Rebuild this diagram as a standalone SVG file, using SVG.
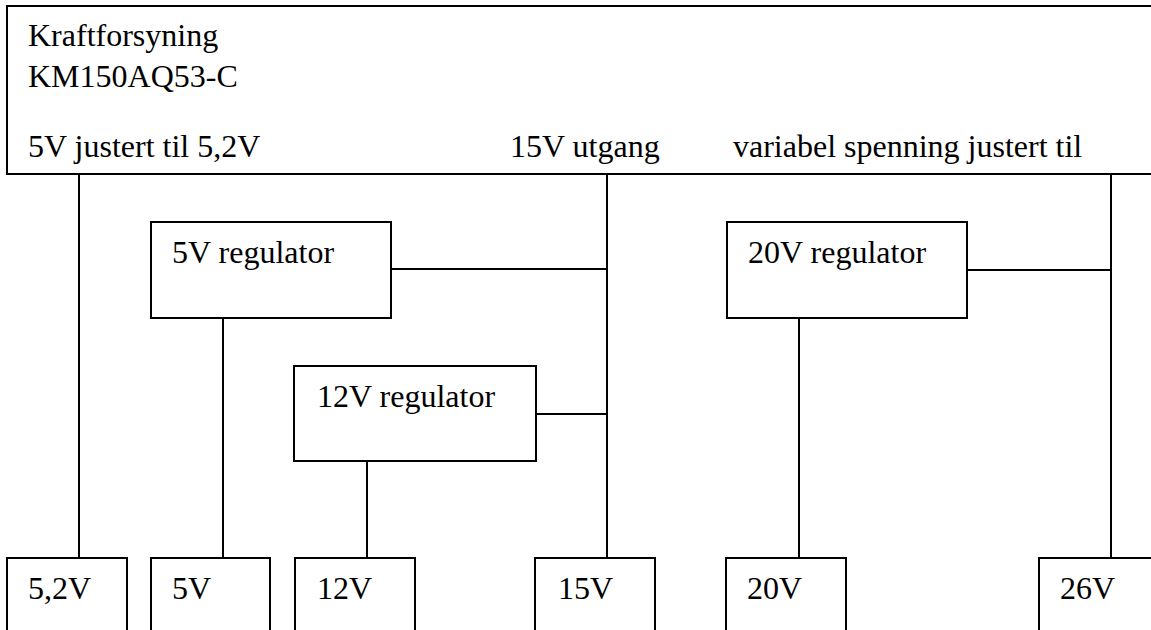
<svg xmlns="http://www.w3.org/2000/svg" width="1151" height="630" viewBox="0 0 1151 630">
  <style>
    .box { fill: #ffffff; stroke: #000000; stroke-width: 2; }
    .wire { fill: none; stroke: #000000; stroke-width: 2; }
    .lbl { font-family: "Liberation Serif", "Times New Roman", serif; font-size: 32px; fill: #000000; }
  </style>
  <rect width="1151" height="630" fill="#ffffff"/>

  <!-- power supply unit -->
  <g id="kraftforsyning">
    <rect class="box" x="7" y="6" width="1160" height="168"/>
    <text class="lbl" x="28" y="46">Kraftforsyning</text>
    <text class="lbl" x="28" y="87">KM150AQ53-C</text>
    <text class="lbl" x="28" y="157">5V justert til 5,2V</text>
    <text class="lbl" x="510" y="157">15V utgang</text>
    <text class="lbl" x="733" y="157">variabel spenning justert til</text>
  </g>

  <!-- wiring -->
  <g id="connectors">
    <line class="wire" x1="79" y1="174" x2="79" y2="558"/>
    <line class="wire" x1="607" y1="174" x2="607" y2="558"/>
    <line class="wire" x1="1111" y1="174" x2="1111" y2="558"/>
    <line class="wire" x1="391" y1="269" x2="607" y2="269"/>
    <line class="wire" x1="536" y1="414" x2="607" y2="414"/>
    <line class="wire" x1="967" y1="270" x2="1111" y2="270"/>
    <line class="wire" x1="223" y1="318" x2="223" y2="558"/>
    <line class="wire" x1="367" y1="461" x2="367" y2="558"/>
    <line class="wire" x1="799" y1="318" x2="799" y2="558"/>
  </g>

  <!-- regulators -->
  <g id="reg5v">
    <rect class="box" x="151" y="222" width="240" height="96"/>
    <text class="lbl" x="172" y="263">5V regulator</text>
  </g>
  <g id="reg12v">
    <rect class="box" x="294" y="366" width="242" height="95"/>
    <text class="lbl" x="317" y="407">12V regulator</text>
  </g>
  <g id="reg20v">
    <rect class="box" x="727" y="222" width="240" height="96"/>
    <text class="lbl" x="748" y="263">20V regulator</text>
  </g>

  <!-- outputs -->
  <g id="out52v">
    <rect class="box" x="7" y="558" width="120" height="80"/>
    <text class="lbl" x="28" y="599">5,2V</text>
  </g>
  <g id="out5v">
    <rect class="box" x="151" y="558" width="119" height="80"/>
    <text class="lbl" x="172" y="599">5V</text>
  </g>
  <g id="out12v">
    <rect class="box" x="295" y="558" width="120" height="80"/>
    <text class="lbl" x="317" y="599">12V</text>
  </g>
  <g id="out15v">
    <rect class="box" x="535" y="558" width="120" height="80"/>
    <text class="lbl" x="558" y="599">15V</text>
  </g>
  <g id="out20v">
    <rect class="box" x="726" y="558" width="120" height="80"/>
    <text class="lbl" x="747" y="599">20V</text>
  </g>
  <g id="out26v">
    <rect class="box" x="1039" y="558" width="130" height="80"/>
    <text class="lbl" x="1060" y="599">26V</text>
  </g>
</svg>
